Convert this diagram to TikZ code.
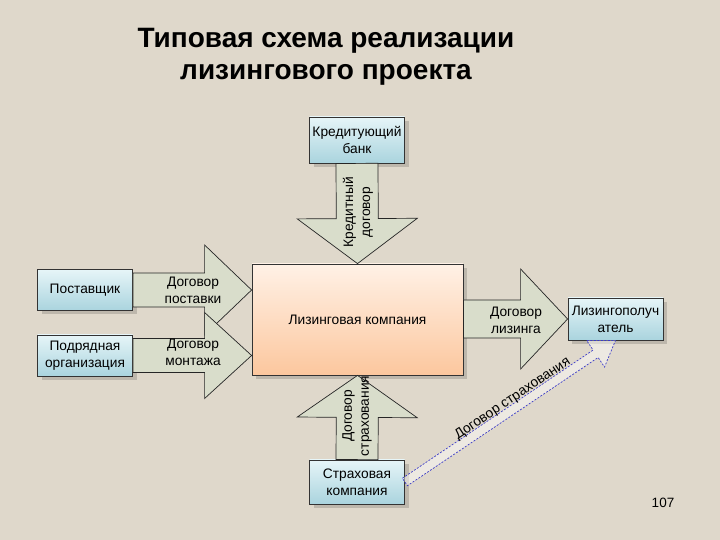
\documentclass[tikz,border=0pt]{standalone}
\usepackage{fontspec}
\setmainfont{Liberation Sans}
\usetikzlibrary{calc,shadows}

\definecolor{bgbeige}{RGB}{223,216,203}
\definecolor{boxtop}{RGB}{230,245,248}
\definecolor{boxbot}{RGB}{170,212,222}
\definecolor{lctop}{RGB}{255,241,230}
\definecolor{lcbot}{RGB}{252,199,158}
\definecolor{arrfill}{RGB}{217,221,203}
\definecolor{dashblue}{RGB}{60,60,200}

% block arrow: [style] from, to, shaft half width, head half width, head length
\newcommand{\blockarrow}[6][]{%
  \coordinate (ba-a) at (#2);
  \coordinate (ba-b) at (#3);
  \coordinate (ba-h) at ($(ba-b)!#6!(ba-a)$);
  \draw[#1] ($(ba-a)!#4!90:(ba-b)$) -- ($(ba-h)!#4!90:(ba-b)$)
    -- ($(ba-h)!#5!90:(ba-b)$) -- (ba-b) -- ($(ba-h)!#5!-90:(ba-b)$)
    -- ($(ba-h)!#4!-90:(ba-b)$) -- ($(ba-a)!#4!-90:(ba-b)$) -- cycle;
}

\begin{document}
\begin{tikzpicture}[x=1pt,y=1pt,
    txt/.style={font=\fontsize{13.75}{17}\selectfont, align=center},
    box/.style={txt, draw=black!80, line width=0.8pt, minimum width=95pt,
      minimum height=41pt, inner sep=1pt,
      drop shadow={shadow xshift=4pt, shadow yshift=-4pt, fill=black, opacity=0.15}},
    bluebox/.style={box, top color=boxtop, bottom color=boxbot},
    orangebox/.style={box, top color=lctop, bottom color=lcbot},
    fatarrow/.style={draw=black!85, line width=0.7pt, fill=arrfill},
    dasharrow/.style={draw=dashblue, dash pattern=on 2pt off 1.5pt, line width=0.7pt,
      fill=white, fill opacity=0.45, draw opacity=1}]
  \fill[bgbeige] (0,0) rectangle (720,540);
  \useasboundingbox (0,0) rectangle (720,540);

  \node[font=\fontsize{28}{32}\selectfont\bfseries, align=center] (title) at (326,483)
    {Типовая схема реализации\\лизингового проекта};

  \node[bluebox, minimum height=46pt] (bank) at (357,400) {Кредитующий\\банк};
  \node[orangebox, minimum width=211pt, minimum height=111pt] (lc) at (357.5,220.5)
    {Лизинговая компания};
  \node[bluebox] (sup) at (85,250) {Поставщик};
  \node[bluebox] (con) at (85,184.5) {Подрядная\\организация};
  \node[bluebox, minimum height=42pt] (les) at (615.5,221) {Лизингополуч\\атель};
  \node[bluebox, minimum height=44pt] (ins) at (357,58) {Страховая\\компания};

  \blockarrow[fatarrow]{bank.south}{lc.north}{21pt}{60pt}{45pt}
  \blockarrow[fatarrow]{sup.east}{sup.east -| lc.west}{17pt}{45pt}{47pt}
  \blockarrow[fatarrow]{con.east}{con.east -| lc.west}{17pt}{43pt}{47pt}
  \blockarrow[fatarrow]{lc.east |- les.west}{les.west}{19pt}{50pt}{47pt}
  \blockarrow[fatarrow]{ins.north}{lc.south}{21pt}{60pt}{42pt}
  \blockarrow[dasharrow]{ins.east}{les.south}{4.5pt}{16pt}{24pt}

  \node[txt, rotate=90] (credit) at (358,328) {Кредитный\\договор};
  \node[txt] (supply) at (193,250) {Договор\\поставки};
  \node[txt] (mount) at (193,188) {Договор\\монтажа};
  \node[txt] (lease) at (516,220) {Договор\\лизинга};
  \node[txt, rotate=90] (insure) at (357,124) {Договор\\страхования};
  \path (ins.east) -- (les.south)
    node[txt, pos=0.535, sloped, above=2.5pt, inner sep=0pt] (insure2) {Договор страхования};

  \node[font=\fontsize{13.5}{15}\selectfont] (pnum) at (663,37) {107};
\end{tikzpicture}
\end{document}
